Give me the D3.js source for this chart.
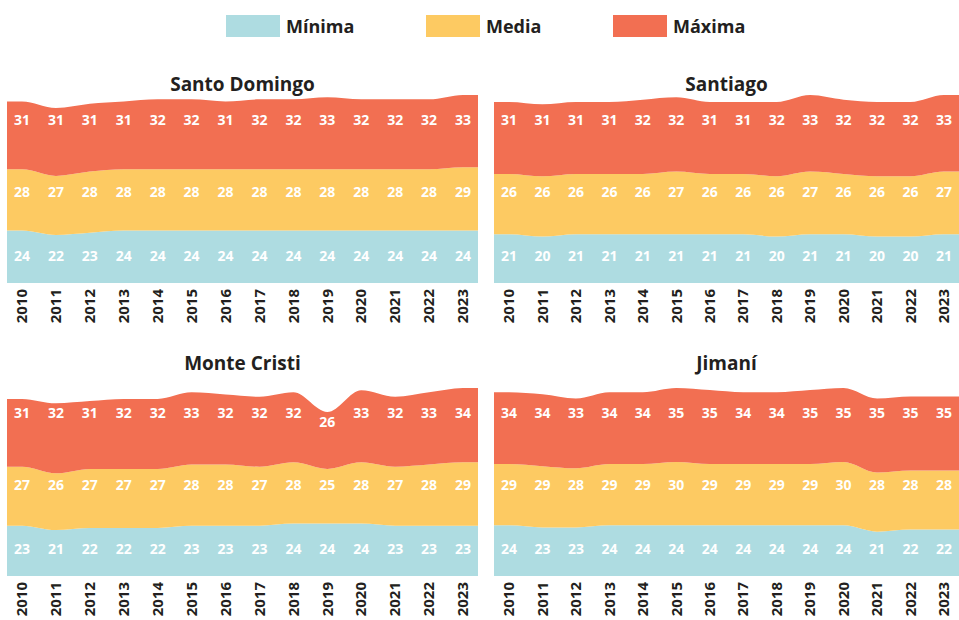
<!DOCTYPE html>
<html>
<head>
<meta charset="utf-8">
<script src="https://cdn.jsdelivr.net/npm/d3@7"></script>
<style>
  body { margin: 0; background: #fff; }
  text { font-family: "Open Sans", sans-serif; font-weight: 700; }
</style>
</head>
<body>
<div id="chart"></div>
<script>
// datos
var years = [2010,2011,2012,2013,2014,2015,2016,2017,2018,2019,2020,2021,2022,2023];
var series_names = ["Mínima","Media","Máxima"];
var series_keys = ["min","media","max"];
var series_colors = ["#aedce1","#fdca62","#f26f52"];
var cities = ["Santo Domingo","Santiago","Monte Cristi","Jimaní"];

var sd_min   = [24,22,23,24,24,24,24,24,24,24,24,24,24,24];
var sd_media = [28,27,28,28,28,28,28,28,28,28,28,28,28,29];
var sd_max   = [31,31,31,31,32,32,31,32,32,33,32,32,32,33];

var sti_min   = [21,20,21,21,21,21,21,21,20,21,21,20,20,21];
var sti_media = [26,26,26,26,26,27,26,26,26,27,26,26,26,27];
var sti_max   = [31,31,31,31,32,32,31,31,32,33,32,32,32,33];

var mc_min   = [23,21,22,22,22,23,23,23,24,24,24,23,23,23];
var mc_media = [27,26,27,27,27,28,28,27,28,25,28,27,28,29];
var mc_max   = [31,32,31,32,32,33,32,32,32,26,33,32,33,34];

var jim_min   = [24,23,23,24,24,24,24,24,24,24,24,21,22,22];
var jim_media = [29,29,28,29,29,30,29,29,29,29,30,28,28,28];
var jim_max   = [34,34,33,34,34,35,35,34,34,35,35,35,35,35];

var city_values = [
  [sd_min, sd_media, sd_max],
  [sti_min, sti_media, sti_max],
  [mc_min, mc_media, mc_max],
  [jim_min, jim_media, jim_max]
];

var width = 959, height = 620;
var svg = d3.select("#chart").append("svg")
  .attr("width", width)
  .attr("height", height);

// leyenda
var legend_x = [226, 426, 613];
var legend = svg.selectAll(".legend")
  .data(series_names)
  .enter().append("g")
  .attr("class", "legend")
  .attr("transform", function(d, i) { return "translate(" + legend_x[i] + ",15)"; });
legend.append("rect")
  .attr("width", 54).attr("height", 22)
  .attr("fill", function(d, i) { return series_colors[i]; });
legend.append("text")
  .attr("x", 60).attr("y", 18)
  .attr("font-size", 18)
  .attr("fill", "#231f20")
  .text(function(d) { return d; });

// paneles
var panels = [
  {x0: 7,   x1: 478, bottom: 283, title_y: 91},
  {x0: 494, x1: 959, bottom: 283, title_y: 91},
  {x0: 7,   x1: 478, bottom: 576, title_y: 370},
  {x0: 494, x1: 959, bottom: 576, title_y: 370}
];
var plot_h = 188;
var label_rows = [-27, -91, -163];

cities.forEach(function(city, ci) {
  var p = panels[ci];
  var vals = city_values[ci];
  var rows = years.map(function(y, i) {
    return {year: y, min: vals[0][i], media: vals[1][i], max: vals[2][i]};
  });

  var x = d3.scalePoint()
    .domain(years)
    .range([p.x0 + 15, p.x1 - 15]);

  var totals = rows.map(function(r) { return r.min + r.media + r.max; });
  var y = d3.scaleLinear()
    .domain([0, d3.max(totals)])
    .range([p.bottom, p.bottom - plot_h]);

  var stacked = d3.stack().keys(series_keys)(rows);

  // extend the areas to the panel edges
  function edge_points(layer) {
    var pts = layer.map(function(d) { return {x: x(d.data.year), y0: d[0], y1: d[1]}; });
    var first = pts[0], last = pts[pts.length - 1];
    return [{x: p.x0, y0: first.y0, y1: first.y1}].concat(pts, [{x: p.x1, y0: last.y0, y1: last.y1}]);
  }

  var area = d3.area()
    .x(function(d) { return d.x; })
    .y0(function(d) { return y(d.y0); })
    .y1(function(d) { return y(d.y1); })
    .curve(d3.curveMonotoneX);

  var g = svg.append("g").attr("class", "panel");

  g.selectAll(".band")
    .data(stacked)
    .enter().append("path")
    .attr("class", "band")
    .attr("d", function(layer) { return area(edge_points(layer)); })
    .attr("fill", function(layer, i) { return series_colors[i]; });

  g.append("text")
    .attr("x", (p.x0 + p.x1) / 2)
    .attr("y", p.title_y)
    .attr("text-anchor", "middle")
    .attr("font-size", 19)
    .attr("fill", "#231f20")
    .text(city);

  // etiquetas de valores
  stacked.forEach(function(layer, li) {
    g.selectAll(".lbl" + li)
      .data(layer)
      .enter().append("text")
      .attr("class", "lbl" + li)
      .attr("x", function(d) { return x(d.data.year); })
      .attr("y", function(d) { return Math.max(p.bottom + label_rows[li], y(d[1]) + 10); })
      .attr("dy", "0.35em")
      .attr("text-anchor", "middle")
      .attr("font-size", 14)
      .attr("fill", "#fff")
      .text(function(d) { return d.data[series_keys[li]]; });
  });

  // años
  g.selectAll(".year")
    .data(years)
    .enter().append("text")
    .attr("class", "year")
    .attr("transform", function(d) { return "translate(" + x(d) + "," + (p.bottom + 6) + ") rotate(-90)"; })
    .attr("text-anchor", "end")
    .attr("dy", "0.35em")
    .attr("font-size", 15)
    .attr("fill", "#231f20")
    .text(function(d) { return d; });
});
</script>
</body>
</html>
